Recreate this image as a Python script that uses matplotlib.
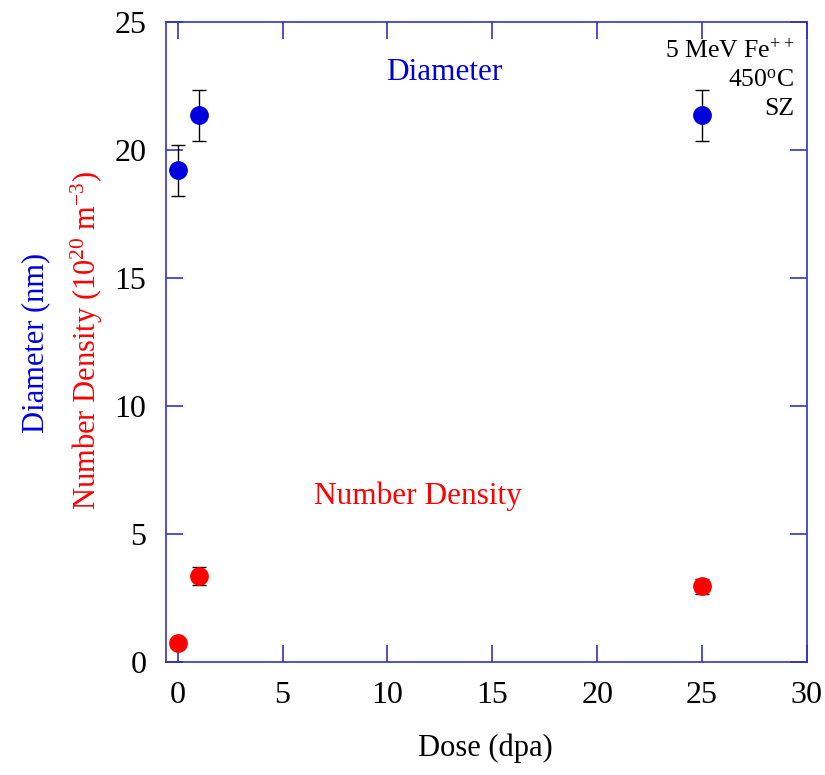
import matplotlib
matplotlib.use('Agg')
import matplotlib.pyplot as plt

# dose (dpa)
dose = [0, 1, 25]
# cluster diameter (nm) and its error
diameter = [19.2, 21.35, 21.35]
diameter_err = [1.0, 1.0, 1.0]
# number density (10^20 m^-3) and its error
density = [0.75, 3.35, 2.95]
density_err = [0.1, 0.35, 0.3]

x_ticks = [0, 5, 10, 15, 20, 25, 30]
y_ticks = [0, 5, 10, 15, 20, 25]

plt.rcParams['font.family'] = ['Liberation Serif', 'DejaVu Serif']
plt.rcParams['mathtext.default'] = 'regular'

axis_color = '#3333bb'
blue = '#0000dd'
red = '#ff0000'

fig = plt.figure(figsize=(8.25, 7.75), dpi=100)
ax = fig.add_axes([0.201, 0.146, 0.777, 0.826])

# error bars first, markers on top
ax.errorbar(dose, diameter, yerr=diameter_err, fmt='none', ecolor='black',
            elinewidth=1, capsize=5, capthick=1, zorder=2)
ax.errorbar(dose, density, yerr=density_err, fmt='none', ecolor='black',
            elinewidth=1, capsize=5, capthick=1, zorder=2)
ax.plot(dose, diameter, 'o', color=blue, markersize=12.5, zorder=3)
ax.plot(dose, density, 'o', color=red, markersize=12.5, zorder=3)

ax.set_xlim(-0.57, 30)
ax.set_ylim(0, 25)
ax.set_xticks(x_ticks)
ax.set_yticks(y_ticks)

for s in ax.spines.values():
    s.set_color(axis_color)
    s.set_linewidth(1.2)
ax.tick_params(direction='in', length=12.5, width=1.2, color=axis_color,
               top=True, right=True, labelsize=23, pad=14)

# series labels inside the plot
ax.text(12.7, 23.0, 'Diameter', color=blue, fontsize=22.5, ha='center', va='center')
ax.text(11.45, 6.45, 'Number Density', color=red, fontsize=22.5, ha='center', va='center')
ax.text(29.4, 24.3, '5 MeV Fe$^{++}$\n450$^{o}$C\nSZ', fontsize=18.5,
        ha='right', va='top', linespacing=1.35)

# two coloured y labels
fig.text(0.043, 0.557, 'Diameter (nm)', color=blue, fontsize=22,
         rotation=90, ha='center', va='center')
fig.text(0.105, 0.561, 'Number Density (10$^{20}$ m$^{-3}$)', color=red,
         fontsize=22, rotation=90, ha='center', va='center')
# x label
fig.text(0.588, 0.035, 'Dose (dpa)', fontsize=22, ha='center', va='center')

fig.savefig('out.png', dpi=100)
